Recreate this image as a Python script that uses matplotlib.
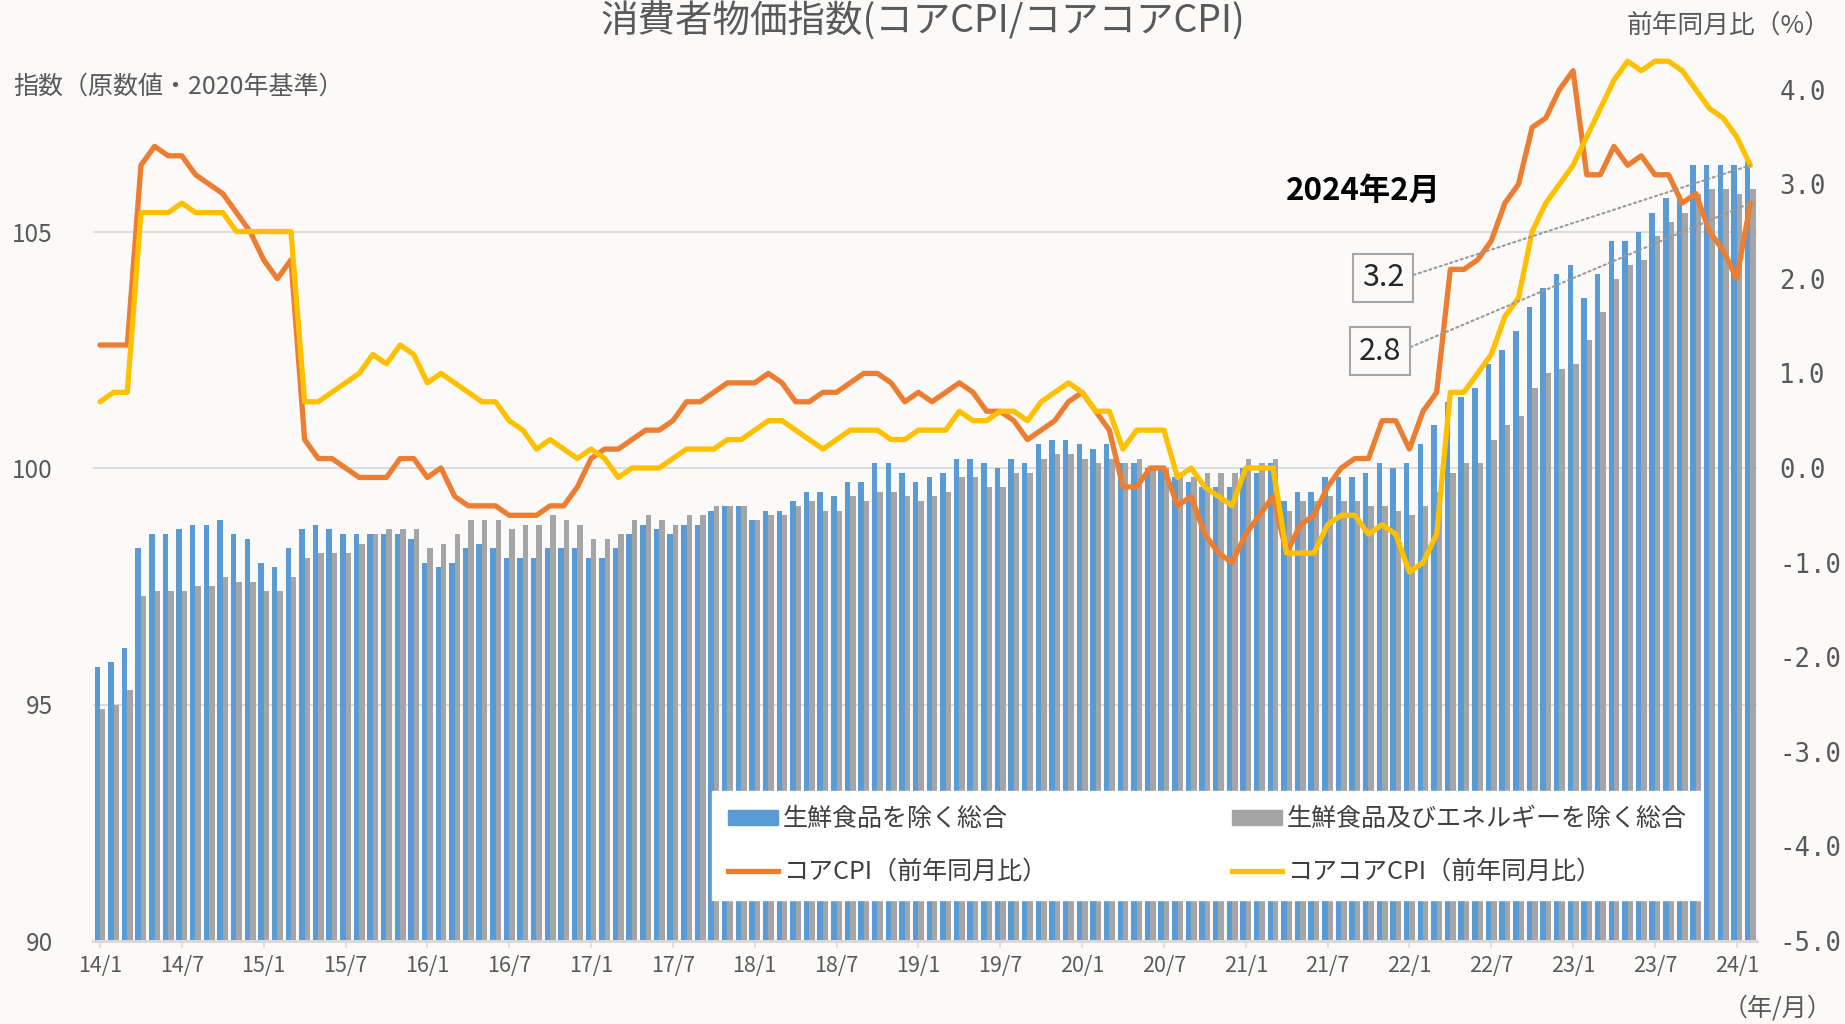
import numpy as np
import matplotlib
matplotlib.use('Agg')
import matplotlib.pyplot as plt
from matplotlib.patches import Patch
from matplotlib.lines import Line2D

plt.rcParams['font.family'] = ['Noto Sans CJK JP', 'DejaVu Sans']
plt.rcParams['axes.unicode_minus'] = False

# monthly, 2014/1 - 2024/2
months = [f'{y % 100}/{m}' for y in range(2014, 2025) for m in range(1, 13)][:122]

# 生鮮食品を除く総合 (index, 2020=100)
core_idx = [
    95.8, 95.9, 96.2, 98.3, 98.6, 98.6, 98.7, 98.8, 98.8, 98.9, 98.6, 98.5,
    98.0, 97.9, 98.3, 98.7, 98.8, 98.7, 98.6, 98.6, 98.6, 98.6, 98.6, 98.5,
    98.0, 97.9, 98.0, 98.3, 98.4, 98.3, 98.1, 98.1, 98.1, 98.3, 98.3, 98.3,
    98.1, 98.1, 98.3, 98.6, 98.8, 98.7, 98.6, 98.8, 98.8, 99.1, 99.2, 99.2,
    98.9, 99.1, 99.1, 99.3, 99.5, 99.5, 99.4, 99.7, 99.7, 100.1, 100.1, 99.9,
    99.7, 99.8, 99.9, 100.2, 100.2, 100.1, 100.0, 100.2, 100.1, 100.5, 100.6, 100.6,
    100.5, 100.4, 100.5, 100.1, 100.1, 100.0, 100.0, 99.8, 99.7, 99.6, 99.6, 99.6,
    100.0, 99.9, 100.1, 99.3, 99.5, 99.5, 99.8, 99.8, 99.8, 99.9, 100.1, 100.0,
    100.1, 100.5, 100.9, 101.4, 101.5, 101.7, 102.2, 102.5, 102.9, 103.4, 103.8, 104.1,
    104.3, 103.6, 104.1, 104.8, 104.8, 105.0, 105.4, 105.7, 105.7, 106.4, 106.4, 106.4,
    106.4, 106.5,
]

# 生鮮食品及びエネルギーを除く総合 (index, 2020=100)
corecore_idx = [
    94.9, 95.0, 95.3, 97.3, 97.4, 97.4, 97.4, 97.5, 97.5, 97.7, 97.6, 97.6,
    97.4, 97.4, 97.7, 98.1, 98.2, 98.2, 98.2, 98.4, 98.6, 98.7, 98.7, 98.7,
    98.3, 98.4, 98.6, 98.9, 98.9, 98.9, 98.7, 98.8, 98.8, 99.0, 98.9, 98.8,
    98.5, 98.5, 98.6, 98.9, 99.0, 98.9, 98.8, 99.0, 99.0, 99.2, 99.2, 99.2,
    98.9, 99.0, 99.0, 99.2, 99.3, 99.1, 99.1, 99.4, 99.3, 99.5, 99.5, 99.4,
    99.3, 99.4, 99.5, 99.8, 99.8, 99.6, 99.6, 99.9, 99.9, 100.2, 100.3, 100.3,
    100.2, 100.1, 100.2, 100.1, 100.2, 100.0, 100.0, 99.8, 99.8, 99.9, 99.9, 99.9,
    100.2, 100.1, 100.2, 99.1, 99.3, 99.3, 99.4, 99.3, 99.3, 99.2, 99.2, 99.1,
    99.0, 99.2, 99.5, 99.9, 100.1, 100.1, 100.6, 100.9, 101.1, 101.7, 102.0, 102.1,
    102.2, 102.7, 103.3, 104.0, 104.3, 104.4, 104.9, 105.2, 105.4, 105.8, 105.9, 105.9,
    105.8, 105.9,
]

# コアCPI 前年同月比 (%)
core_yoy = [
    1.3, 1.3, 1.3, 3.2, 3.4, 3.3, 3.3, 3.1, 3.0, 2.9, 2.7, 2.5,
    2.2, 2.0, 2.2, 0.3, 0.1, 0.1, 0.0, -0.1, -0.1, -0.1, 0.1, 0.1,
    -0.1, 0.0, -0.3, -0.4, -0.4, -0.4, -0.5, -0.5, -0.5, -0.4, -0.4, -0.2,
    0.1, 0.2, 0.2, 0.3, 0.4, 0.4, 0.5, 0.7, 0.7, 0.8, 0.9, 0.9,
    0.9, 1.0, 0.9, 0.7, 0.7, 0.8, 0.8, 0.9, 1.0, 1.0, 0.9, 0.7,
    0.8, 0.7, 0.8, 0.9, 0.8, 0.6, 0.6, 0.5, 0.3, 0.4, 0.5, 0.7,
    0.8, 0.6, 0.4, -0.2, -0.2, 0.0, 0.0, -0.4, -0.3, -0.7, -0.9, -1.0,
    -0.7, -0.5, -0.3, -0.9, -0.6, -0.5, -0.2, 0.0, 0.1, 0.1, 0.5, 0.5,
    0.2, 0.6, 0.8, 2.1, 2.1, 2.2, 2.4, 2.8, 3.0, 3.6, 3.7, 4.0,
    4.2, 3.1, 3.1, 3.4, 3.2, 3.3, 3.1, 3.1, 2.8, 2.9, 2.5, 2.3,
    2.0, 2.8,
]

# コアコアCPI 前年同月比 (%)
corecore_yoy = [
    0.7, 0.8, 0.8, 2.7, 2.7, 2.7, 2.8, 2.7, 2.7, 2.7, 2.5, 2.5,
    2.5, 2.5, 2.5, 0.7, 0.7, 0.8, 0.9, 1.0, 1.2, 1.1, 1.3, 1.2,
    0.9, 1.0, 0.9, 0.8, 0.7, 0.7, 0.5, 0.4, 0.2, 0.3, 0.2, 0.1,
    0.2, 0.1, -0.1, 0.0, 0.0, 0.0, 0.1, 0.2, 0.2, 0.2, 0.3, 0.3,
    0.4, 0.5, 0.5, 0.4, 0.3, 0.2, 0.3, 0.4, 0.4, 0.4, 0.3, 0.3,
    0.4, 0.4, 0.4, 0.6, 0.5, 0.5, 0.6, 0.6, 0.5, 0.7, 0.8, 0.9,
    0.8, 0.6, 0.6, 0.2, 0.4, 0.4, 0.4, -0.1, 0.0, -0.2, -0.3, -0.4,
    0.0, 0.0, 0.0, -0.9, -0.9, -0.9, -0.6, -0.5, -0.5, -0.7, -0.6, -0.7,
    -1.1, -1.0, -0.7, 0.8, 0.8, 1.0, 1.2, 1.6, 1.8, 2.5, 2.8, 3.0,
    3.2, 3.5, 3.8, 4.1, 4.3, 4.2, 4.3, 4.3, 4.2, 4.0, 3.8, 3.7,
    3.5, 3.2,
]

labels = ['生鮮食品を除く総合', '生鮮食品及びエネルギーを除く総合',
          'コアCPI（前年同月比）', 'コアコアCPI（前年同月比）']
tick_pos = list(range(0, 122, 6))
tick_labels = [months[i] for i in tick_pos]

BG = '#fbfaf8'
BLUE, GRAY, ORANGE, YELLOW = '#5b9bd5', '#a5a5a5', '#ed7d31', '#ffc000'
TXT = '#595959'

fig = plt.figure(figsize=(18.45, 10.24), dpi=100, facecolor=BG)
ax = fig.add_axes([93.2 / 1845, 83 / 1024, 1664 / 1845, 898.7 / 1024])
ax.set_facecolor(BG)

x = np.arange(len(months))
ax.bar(x - 0.2, core_idx, width=0.4, color=BLUE)
ax.bar(x + 0.2, corecore_idx, width=0.4, color=GRAY)
ax.set_ylim(90, 109)
ax.set_xlim(-0.5, 121.5)
ax.set_yticks([90, 95, 100, 105])
ax.grid(axis='y', color='#d9d9d9', lw=1.3)
ax.set_axisbelow(True)
for s in ['top', 'left', 'right']:
    ax.spines[s].set_visible(False)
ax.spines['bottom'].set_color('#d9d9d9')
ax.spines['bottom'].set_linewidth(2.2)
ax.set_xticks(tick_pos)
ax.set_xticklabels(tick_labels)
ax.tick_params(axis='x', colors='#d9d9d9', length=5, width=1.2, pad=5,
               labelsize=15.5, labelcolor=TXT)
ax.tick_params(axis='y', length=0, pad=29, labelsize=17.5, labelcolor=TXT)

ax2 = ax.twinx()
ax2.plot(x, core_yoy, color=ORANGE, lw=3.8, solid_joinstyle='round', solid_capstyle='round')
ax2.plot(x, corecore_yoy, color=YELLOW, lw=3.8, solid_joinstyle='round', solid_capstyle='round')
ax2.set_ylim(-5, 4.5)
yt = np.arange(-5, 5)
ax2.set_yticks(yt)
ax2.set_yticklabels([f'{v:.1f}' for v in yt], family='DejaVu Sans Mono')
ax2.tick_params(axis='y', length=0, pad=16, labelsize=18.5, labelcolor=TXT)
for s in ax2.spines.values():
    s.set_visible(False)

# annotations for latest values
box = dict(boxstyle='square,pad=0.28', fc=BG, ec='#a6a6a6', lw=1.5)
arrow = dict(arrowstyle='-', ls=':', color='#9a9a9a', lw=1.5, relpos=(1, 0.5),
             shrinkA=0, shrinkB=0)
ax2.annotate(f'{corecore_yoy[-1]:.1f}', xy=(x[-1], corecore_yoy[-1]),
             xytext=(1383, 746), textcoords='figure pixels', ha='center', va='center',
             fontsize=22, color='#262626', bbox=box, arrowprops=arrow)
ax2.annotate(f'{core_yoy[-1]:.1f}', xy=(x[-1], core_yoy[-1]),
             xytext=(1380, 673), textcoords='figure pixels', ha='center', va='center',
             fontsize=22, color='#262626', bbox=box, arrowprops=arrow)

handles = [Patch(color=BLUE), Line2D([], [], color=ORANGE, lw=3.8),
           Patch(color=GRAY), Line2D([], [], color=YELLOW, lw=3.8)]
leg = ax2.legend(handles, [labels[0], labels[2], labels[1], labels[3]], ncol=2,
                 loc='lower left', bbox_to_anchor=(0.372, 0.0456, 0.595, 0.121),
                 mode='expand', fontsize=18, frameon=True, fancybox=False,
                 facecolor='white', edgecolor='white', framealpha=1,
                 handlelength=2.0, handleheight=0.5, handletextpad=0.2,
                 labelspacing=1.05, borderpad=0.62, borderaxespad=0)
for t in leg.get_texts():
    t.set_color('#404040')
leg.set_zorder(10)

fig.text(0.5, 1022 / 1024, '消費者物価指数(コアCPI/コアコアCPI)', ha='center',
         va='top', fontsize=27, color=TXT)
fig.text(13 / 1845, (1024 - 87) / 1024, '指数（原数値・2020年基準）', ha='left',
         va='center', fontsize=18, color=TXT)
fig.text(1830 / 1845, (1024 - 26) / 1024, '前年同月比（%）', ha='right',
         va='center', fontsize=18.5, color=TXT)
fig.text(1286 / 1845, (1024 - 191) / 1024, '2024年2月', ha='left', va='center',
         fontsize=22.5, fontweight='bold', color='black')
fig.text(1832 / 1845, (1024 - 1008) / 1024, '（年/月）', ha='right', va='center',
         fontsize=18, color=TXT)

fig.savefig('out.png', dpi=100, facecolor=BG)
